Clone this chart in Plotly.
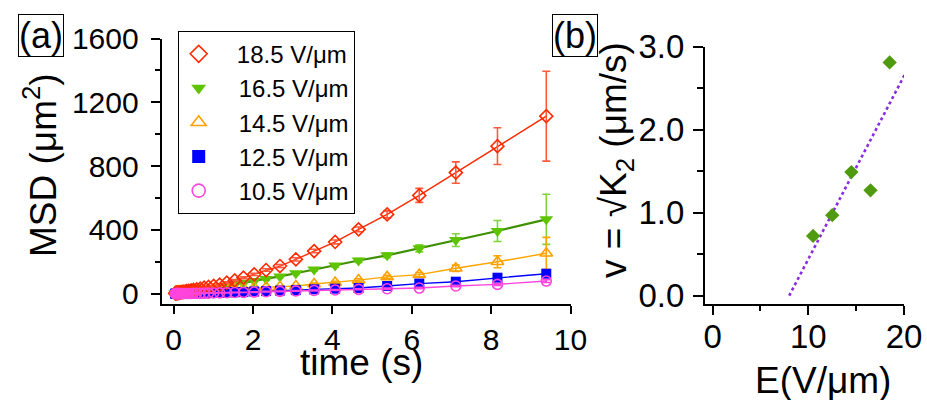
import plotly.graph_objects as go

# ---------------- data: panel (a) ----------------
time_s = [0.04, 0.05, 0.06, 0.07, 0.08, 0.09, 0.10, 0.12, 0.14, 0.16, 0.19, 0.22, 0.25,
          0.29, 0.33, 0.38, 0.44, 0.50, 0.58, 0.67, 0.77, 0.88, 1.01, 1.16, 1.34, 1.54,
          1.76, 2.03, 2.33, 2.68, 3.08, 3.54, 4.07, 4.66, 5.38, 6.19, 7.11, 8.16, 9.39]

msd_185 = [2, 2, 3, 3, 4, 4, 5, 5, 6, 7, 9, 10, 11, 13, 15, 17, 20, 23, 27, 31, 37, 42, 49,
           56, 69, 83, 100, 121, 148, 173, 215, 267, 324, 403, 497, 616, 759, 925, 1113]
err_185 = [1, 1, 1, 1, 1, 1, 1, 1, 1, 1, 2, 2, 2, 2, 2, 2, 3, 3, 3, 3, 4, 4, 4,
           5, 5, 6, 6, 7, 8, 9, 10, 11, 12, 15, 22, 44, 67, 115, 282]

msd_165 = [1, 1, 2, 2, 2, 3, 3, 4, 4, 5, 6, 7, 8, 10, 11, 13, 15, 17, 20, 23, 27, 31, 36,
           42, 50, 58, 68, 80, 92, 108, 128, 152, 176, 208, 240, 284, 336, 393, 466]
err_165 = [1, 1, 1, 1, 1, 1, 1, 1, 1, 1, 1, 1, 1, 2, 2, 2, 2, 2, 2, 2, 3, 3, 3,
           3, 4, 4, 5, 5, 6, 7, 8, 9, 10, 12, 15, 22, 40, 66, 157]

msd_145 = [12, 12, 12, 13, 13, 13, 13, 14, 14, 14, 15, 15, 16, 16, 17, 17, 18, 19, 20, 21, 22, 24, 25,
           27, 29, 31, 34, 37, 40, 43, 48, 60, 70, 85, 105, 119, 159, 200, 253]
err_145 = [1, 1, 1, 1, 1, 1, 1, 1, 1, 1, 1, 1, 1, 1, 1, 1, 2, 2, 2, 2, 2, 2, 2,
           2, 2, 3, 3, 3, 4, 4, 5, 6, 7, 8, 10, 14, 20, 38, 100]

msd_125 = [0, 0, 0, 0, 0, 0, 1, 1, 1, 1, 1, 1, 1, 1, 1, 2, 2, 2, 2, 3, 3, 4, 5,
           6, 8, 9, 11, 13, 16, 19, 22, 27, 31, 35, 48, 63, 75, 100, 125]
err_125 = [1, 1, 1, 1, 1, 1, 1, 1, 1, 1, 1, 1, 1, 1, 1, 1, 1, 1, 1, 1, 1, 1, 1,
           1, 1, 1, 2, 2, 2, 2, 3, 3, 3, 4, 4, 5, 6, 8, 12]

msd_105 = [0, 0, 0, 0, 0, 0, 0, 0, 1, 1, 1, 1, 1, 1, 1, 1, 1, 2, 2, 2, 3, 3, 4,
           5, 6, 7, 8, 10, 12, 14, 17, 20, 23, 27, 31, 35, 48, 58, 79]
err_105 = [1, 1, 1, 1, 1, 1, 1, 1, 1, 1, 1, 1, 1, 1, 1, 1, 1, 1, 1, 1, 1, 1, 1,
           1, 1, 1, 1, 2, 2, 2, 2, 3, 3, 3, 4, 4, 5, 6, 9]

series_names = ["18.5 V/\u03bcm", "16.5 V/\u03bcm", "14.5 V/\u03bcm", "12.5 V/\u03bcm", "10.5 V/\u03bcm"]

# ---------------- data: panel (b) ----------------
field_E = [10.5, 12.5, 14.5, 16.5, 18.5]
speed_v = [0.72, 0.97, 1.49, 1.27, 2.81]
fit_E = [8.0, 20.1]
fit_v = [0.0, 2.67]

FONT = "Liberation Sans, Arial, Helvetica, sans-serif"
W, H = 927, 400
NB = "\u00a0"
PAD_FIRST = NB * 2 + "\u2009"
PAD_REST = NB * 3

styles = [
    dict(name=PAD_FIRST + series_names[0], y=msd_185, e=err_185, line="#ff2a00", ecol="#ff5a3c", lw=1.4,
         marker=dict(symbol="diamond-open", size=10, color="#ff2a00", line=dict(width=1.6, color="#ff2a00"))),
    dict(name=PAD_REST + series_names[1], y=msd_165, e=err_165, line="#3f9000", ecol="#7fd43a", lw=2.2,
         marker=dict(symbol="triangle-down", size=12, color="#5ec400", line=dict(width=0))),
    dict(name=PAD_REST + series_names[2], y=msd_145, e=err_145, line="#ffa500", ecol="#ffa500", lw=1.4,
         marker=dict(symbol="triangle-up-open", size=11, color="#ffa000", line=dict(width=1.6, color="#ffa000"))),
    dict(name=PAD_REST + series_names[3], y=msd_125, e=err_125, line="#0000ff", ecol="#0000ff", lw=1.4,
         marker=dict(symbol="square", size=10, color="#0000ff", line=dict(width=0))),
    dict(name=PAD_REST + series_names[4], y=msd_105, e=err_105, line="#ff44dd", ecol="#ff44dd", lw=1.4,
         marker=dict(symbol="circle-open", size=10, color="#ff44dd", line=dict(width=1.6, color="#ff44dd"))),
]

fig = go.Figure()

# connecting lines (under markers)
for s in styles:
    fig.add_trace(go.Scatter(x=time_s, y=s["y"], mode="lines",
                             line=dict(color=s["line"], width=s["lw"]),
                             showlegend=False, hoverinfo="skip", xaxis="x", yaxis="y"))

# markers with error bars; drawing order: green, orange, blue, red, pink
for idx in [1, 2, 3, 0, 4]:
    s = styles[idx]
    fig.add_trace(go.Scatter(x=time_s, y=s["y"], mode="markers", marker=s["marker"],
                             error_y=dict(type="data", array=s["e"], visible=True,
                                          color=s["ecol"], thickness=1.6, width=4),
                             showlegend=False, xaxis="x", yaxis="y"))

# legend proxies
for rank, s in enumerate(styles):
    m = s["marker"]
    m = dict(symbol=m["symbol"], size=13, color=m["color"], line=m["line"])
    fig.add_trace(go.Scatter(x=[None], y=[None], mode="markers", marker=m, name=s["name"],
                             legendrank=rank + 1, xaxis="x", yaxis="y"))

# panel (b)
fig.add_trace(go.Scatter(x=fit_E, y=fit_v, mode="lines",
                         line=dict(color="#8a2be2", width=2.6, dash="dot"),
                         showlegend=False, xaxis="x2", yaxis="y2"))
fig.add_trace(go.Scatter(x=field_E, y=speed_v, mode="markers",
                         marker=dict(symbol="diamond", size=11, color="#4f9a0e"),
                         showlegend=False, xaxis="x2", yaxis="y2"))

def px_x(p):
    return p / W

def px_y(p):
    return 1 - p / H

axis_common = dict(showline=True, linecolor="black", linewidth=2, mirror=False,
                   ticks="outside", tickcolor="black", tickwidth=2, showgrid=False,
                   zeroline=False, color="black", automargin=False)

fig.update_layout(
    width=W, height=H,
    margin=dict(l=0, r=0, t=0, b=0, pad=0, autoexpand=False),
    paper_bgcolor="white", plot_bgcolor="white",
    font=dict(family=FONT, color="black"),
    xaxis=dict(domain=[px_x(161.7), px_x(570.5)], range=[-0.3, 10], tickvals=[0, 2, 4, 6, 8, 10],
               ticklen=8, tickfont=dict(size=30), anchor="y", ticklabelstandoff=0, **axis_common),
    yaxis=dict(domain=[px_y(304), px_y(38.5)], range=[-65, 1600], tickvals=[0, 400, 800, 1200, 1600],
               ticklen=9, tickfont=dict(size=30), anchor="x", ticklabelstandoff=6,
               minor=dict(dtick=200, ticklen=5, ticks="outside", tickwidth=2, tickcolor="black"),
               **axis_common),
    xaxis2=dict(domain=[px_x(705), px_x(904)], range=[-0.8, 20], tickvals=[0, 10, 20],
                ticklen=9, tickfont=dict(size=33), anchor="y2", ticklabelstandoff=-7,
                minor=dict(dtick=5, ticklen=5, ticks="outside", tickwidth=2, tickcolor="black"),
                **axis_common),
    yaxis2=dict(domain=[px_y(304), px_y(46.7)], range=[-0.1, 3.0], tickvals=[0, 1, 2, 3],
                tickformat=".1f", ticklen=10, tickfont=dict(size=33), anchor="x2", ticklabelstandoff=2,
                minor=dict(dtick=0.5, ticklen=6, ticks="outside", tickwidth=2, tickcolor="black"),
                **axis_common),
    legend=dict(x=px_x(177.7), y=px_y(30.7), xanchor="left", yanchor="top",
                bordercolor="black", borderwidth=1, bgcolor="white",
                font=dict(size=24, family=FONT, color="black"), tracegroupgap=0,
                itemsizing="trace"),
    annotations=[
        dict(text="(a)", x=px_x(40.5), y=px_y(35.5), xref="paper", yref="paper",
             xanchor="center", yanchor="middle", showarrow=False, font=dict(size=36),
             bordercolor="black", borderwidth=1, borderpad=0),
        dict(text="(b)", x=px_x(575), y=px_y(35.5), xref="paper", yref="paper",
             xanchor="center", yanchor="middle", showarrow=False, font=dict(size=36),
             bordercolor="black", borderwidth=1, borderpad=0),
        dict(text="MSD (\u03bcm<sup>2</sup>)", x=px_x(40), y=px_y(165), xref="paper", yref="paper",
             xanchor="center", yanchor="middle", showarrow=False, textangle=-90, font=dict(size=37)),
        dict(text="time (s)", x=px_x(361.5), y=px_y(362), xref="paper", yref="paper",
             xanchor="center", yanchor="middle", showarrow=False, font=dict(size=37)),
        dict(text="v = \u221aK<sub>2</sub> (\u03bcm/s)", x=px_x(616), y=px_y(160), xref="paper", yref="paper",
             xanchor="center", yanchor="middle", showarrow=False, textangle=-90, font=dict(size=37)),
        dict(text="E(V/\u03bcm)", x=px_x(822.5), y=px_y(380), xref="paper", yref="paper",
             xanchor="center", yanchor="middle", showarrow=False, font=dict(size=37)),
    ],
)

fig.write_html("out.html", config={"displayModeBar": False},
               post_script="document.body.style.margin='0';document.body.style.overflow='hidden';")
